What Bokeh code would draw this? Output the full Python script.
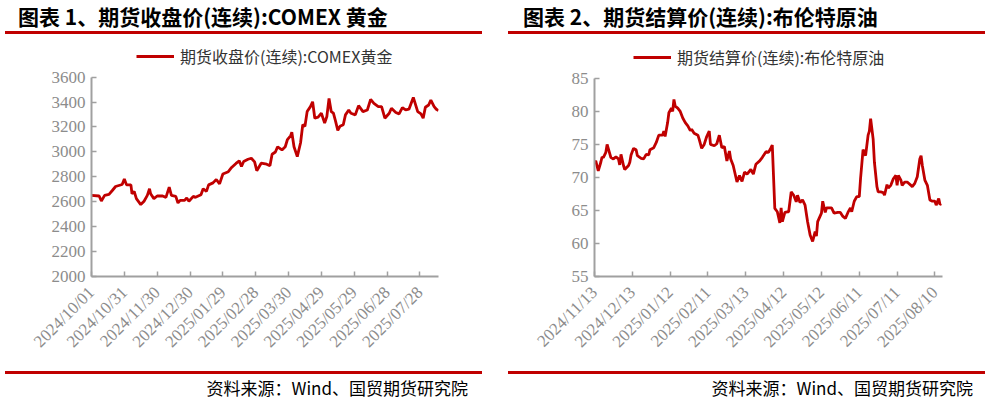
import pandas as pd
import math
from bokeh.plotting import figure
from bokeh.layouts import row, column
from bokeh.models import (Range1d, FixedTicker, DatetimeTickFormatter, Div,
                          Legend, LegendItem, ColumnDataSource)
from bokeh.embed import file_html
from bokeh.resources import INLINE

# ---------------- data: COMEX gold, continuous close ----------------
gold_dates = [
    "2024/10/01", "2024/10/08", "2024/10/10", "2024/10/13", "2024/10/17", "2024/10/20",
    "2024/10/23", "2024/10/26", "2024/10/29", "2024/10/31", "2024/11/02", "2024/11/06",
    "2024/11/07", "2024/11/09", "2024/11/11", "2024/11/15", "2024/11/18", "2024/11/21",
    "2024/11/23", "2024/11/24", "2024/11/27", "2024/11/30", "2024/12/05", "2024/12/08",
    "2024/12/11", "2024/12/13", "2024/12/17", "2024/12/19", "2024/12/21", "2024/12/25",
    "2024/12/27", "2024/12/29", "2025/01/02", "2025/01/04", "2025/01/09", "2025/01/11",
    "2025/01/14", "2025/01/16", "2025/01/20", "2025/01/23", "2025/01/26", "2025/01/29",
    "2025/02/03", "2025/02/06", "2025/02/10", "2025/02/13", "2025/02/15", "2025/02/17",
    "2025/02/21", "2025/02/24", "2025/02/27", "2025/03/01", "2025/03/05", "2025/03/10",
    "2025/03/13", "2025/03/15", "2025/03/18", "2025/03/20", "2025/03/24", "2025/03/27",
    "2025/03/29", "2025/04/01", "2025/04/02", "2025/04/04", "2025/04/07", "2025/04/10",
    "2025/04/12", "2025/04/14", "2025/04/16", "2025/04/19", "2025/04/21", "2025/04/23",
    "2025/04/26", "2025/04/29", "2025/05/02", "2025/05/04", "2025/05/06", "2025/05/08",
    "2025/05/10", "2025/05/12", "2025/05/14", "2025/05/16", "2025/05/19", "2025/05/21",
    "2025/05/24", "2025/05/26", "2025/05/30", "2025/06/02", "2025/06/06", "2025/06/10",
    "2025/06/13", "2025/06/16", "2025/06/20", "2025/06/23", "2025/06/26", "2025/06/30",
    "2025/07/02", "2025/07/06", "2025/07/09", "2025/07/12", "2025/07/15", "2025/07/18",
    "2025/07/22", "2025/07/26", "2025/07/29", "2025/07/31", "2025/08/02", "2025/08/05",
    "2025/08/07", "2025/08/10", "2025/08/12", "2025/08/14",
]
gold_close = [
    2651, 2646, 2606, 2651, 2659, 2690,
    2722, 2730, 2738, 2783, 2735, 2735,
    2664, 2683, 2625, 2577, 2604, 2651,
    2704, 2664, 2625, 2646, 2646, 2635,
    2717, 2651, 2643, 2590, 2611, 2611,
    2630, 2604, 2643, 2635, 2656, 2704,
    2683, 2735, 2751, 2778, 2743, 2822,
    2841, 2875, 2907, 2928, 2883, 2923,
    2941, 2949, 2920, 2849, 2909, 2901,
    2888, 2981, 2999, 3041, 3015, 3041,
    3099, 3131, 3157, 3041, 2962, 3073,
    3218, 3205, 3323, 3363, 3402, 3270,
    3278, 3310, 3231, 3284, 3429, 3323,
    3310, 3244, 3173, 3205, 3218, 3297,
    3336, 3310, 3297, 3371, 3323, 3336,
    3421, 3389, 3363, 3363, 3270, 3310,
    3350, 3316, 3305, 3355, 3336, 3342,
    3437, 3323, 3305, 3270, 3358, 3376,
    3416, 3363, 3342, 3331,
]
gold_ticks = ["2024/10/01", "2024/10/31", "2024/11/30", "2024/12/30", "2025/01/29",
              "2025/02/28", "2025/03/30", "2025/04/29", "2025/05/29", "2025/06/28",
              "2025/07/28"]
gold_yticks = [2000, 2200, 2400, 2600, 2800, 3000, 3200, 3400, 3600]

# ---------------- data: Brent crude, continuous settlement ----------------
brent_dates = [
    "2024/11/13", "2024/11/14", "2024/11/16", "2024/11/18", "2024/11/19", "2024/11/20",
    "2024/11/22", "2024/11/23", "2024/11/26", "2024/11/28", "2024/11/30", "2024/12/02",
    "2024/12/03", "2024/12/04", "2024/12/06", "2024/12/07", "2024/12/10", "2024/12/11",
    "2024/12/12", "2024/12/14", "2024/12/16", "2024/12/17", "2024/12/20", "2024/12/22",
    "2024/12/24", "2024/12/26", "2024/12/27", "2024/12/30", "2025/01/01", "2025/01/03",
    "2025/01/06", "2025/01/07", "2025/01/08", "2025/01/10", "2025/01/11", "2025/01/13",
    "2025/01/14", "2025/01/15", "2025/01/16", "2025/01/18", "2025/01/20", "2025/01/22",
    "2025/01/24", "2025/01/26", "2025/01/28", "2025/01/29", "2025/01/31", "2025/02/03",
    "2025/02/04", "2025/02/06", "2025/02/08", "2025/02/10", "2025/02/12", "2025/02/13",
    "2025/02/16", "2025/02/18", "2025/02/20", "2025/02/22", "2025/02/24", "2025/02/26",
    "2025/02/28", "2025/03/01", "2025/03/03", "2025/03/06", "2025/03/08", "2025/03/10",
    "2025/03/12", "2025/03/14", "2025/03/17", "2025/03/19", "2025/03/21", "2025/03/24",
    "2025/03/26", "2025/03/29", "2025/03/31", "2025/04/02", "2025/04/03", "2025/04/05",
    "2025/04/07", "2025/04/09", "2025/04/10", "2025/04/11", "2025/04/13", "2025/04/15",
    "2025/04/16", "2025/04/18", "2025/04/20", "2025/04/22", "2025/04/23", "2025/04/25",
    "2025/04/27", "2025/04/29", "2025/05/01", "2025/05/03", "2025/05/05", "2025/05/07",
    "2025/05/08", "2025/05/09", "2025/05/12", "2025/05/13", "2025/05/15", "2025/05/16",
    "2025/05/20", "2025/05/22", "2025/05/25", "2025/05/27", "2025/05/29", "2025/05/31",
    "2025/06/02", "2025/06/04", "2025/06/05", "2025/06/07", "2025/06/09", "2025/06/11",
    "2025/06/12", "2025/06/14", "2025/06/15", "2025/06/16", "2025/06/18", "2025/06/19",
    "2025/06/20", "2025/06/22", "2025/06/23", "2025/06/25", "2025/06/26", "2025/06/28",
    "2025/06/30", "2025/07/01", "2025/07/03", "2025/07/04", "2025/07/06", "2025/07/08",
    "2025/07/10", "2025/07/11", "2025/07/12", "2025/07/14", "2025/07/15", "2025/07/17",
    "2025/07/19", "2025/07/22", "2025/07/23", "2025/07/25", "2025/07/27", "2025/07/29",
    "2025/07/30", "2025/07/31", "2025/08/02", "2025/08/04", "2025/08/06", "2025/08/08",
    "2025/08/10", "2025/08/11", "2025/08/13", "2025/08/14", "2025/08/15",
]
brent_settle = [
    72.3, 72.5, 71.0, 72.3, 73.1, 73.0,
    73.8, 75.0, 73.0, 72.8, 73.1, 72.8,
    71.9, 73.5, 71.8, 71.2, 71.8, 72.3,
    73.4, 74.4, 74.2, 73.3, 72.9, 72.8,
    73.5, 73.4, 74.2, 74.5, 75.3, 76.4,
    76.4, 77.0, 76.2, 78.3, 79.8, 80.5,
    80.0, 81.8, 80.8, 80.5, 80.0, 79.0,
    78.3, 77.8, 77.1, 77.3, 76.7, 76.4,
    75.8, 74.4, 75.0, 76.2, 77.0, 75.0,
    74.8, 75.1, 76.4, 74.5, 74.7, 72.5,
    74.0, 72.8, 71.8, 69.3, 70.3, 69.4,
    70.8, 70.5, 71.2, 70.5, 72.0, 72.5,
    73.0, 73.9, 73.8, 74.5, 74.9, 65.3,
    64.8, 63.1, 65.4, 63.3, 64.7, 64.8,
    64.8, 67.8, 67.3, 66.3, 67.3, 66.2,
    66.6, 65.8, 63.3, 61.3, 60.3, 61.8,
    61.1, 63.3, 64.6, 66.4, 64.7, 65.4,
    65.4, 64.6, 64.7, 64.7, 64.1, 63.8,
    64.7, 65.4, 64.8, 66.4, 67.1, 67.1,
    69.8, 74.2, 73.8, 73.3, 76.4, 77.0,
    78.9, 75.8, 72.3, 68.6, 67.8, 67.8,
    67.7, 67.3, 68.9, 68.4, 68.8, 69.8,
    70.3, 68.8, 70.3, 69.6, 68.8, 69.3,
    69.3, 68.8, 68.6, 69.1, 70.1, 72.8,
    73.3, 71.8, 69.6, 68.8, 66.6, 66.4,
    66.4, 65.8, 66.8, 65.9, 66.0,
]
brent_ticks = ["2024/11/13", "2024/12/13", "2025/01/12", "2025/02/11", "2025/03/13",
               "2025/04/12", "2025/05/12", "2025/06/11", "2025/07/11", "2025/08/10"]
brent_yticks = [55, 60, 65, 70, 75, 80, 85]

RED = "#c00000"
AXIS = "#a0a0a0"
W = 495
H_HEAD, H_CHART, H_FOOT = 34, 326, 43
SOURCE = "资料来源：Wind、国贸期货研究院"
CJK = "'Noto Sans CJK SC', sans-serif"


def ms(s):
    return pd.Timestamp(s.replace("/", "-")).value / 1e6


def header(title, title_x, bar):
    html = (
        f'<div style="position:relative;width:{W}px;height:{H_HEAD}px;">'
        f'<div style="position:absolute;left:{title_x}px;top:4px;white-space:nowrap;'
        f'font-family:{CJK};font-weight:bold;font-size:21px;line-height:24px;color:#000;">'
        f'{title}</div>'
        f'<div style="position:absolute;left:{bar[0]}px;top:31px;width:{bar[1]-bar[0]}px;'
        f'height:2.5px;background:{RED};"></div></div>'
    )
    return Div(text=html, width=W, height=H_HEAD, margin=0)


def footer(src_right, bar):
    html = (
        f'<div style="position:relative;width:{W}px;height:{H_FOOT}px;">'
        f'<div style="position:absolute;left:{bar[0]}px;top:11px;width:{bar[1]-bar[0]}px;'
        f'height:2.5px;background:{RED};"></div>'
        f'<div style="position:absolute;right:{W - src_right}px;top:17px;white-space:nowrap;'
        f'font-family:{CJK};font-size:17px;line-height:22px;color:#000;">'
        f'{SOURCE}</div></div>'
    )
    return Div(text=html, width=W, height=H_FOOT, margin=0)


def chart(legend_label, dates, vals, ticks, yticks, x_end, borders,
          top_tick_px, legend_x):
    # borders: left, right, bottom (px); top_tick_px: distance (px) from the
    # frame bottom to the highest y tick.  The frame reaches to near the top of
    # the figure so that the legend can sit above the axis inside the frame.
    bl, br, bb = borders
    bt = 10
    frame_h = H_CHART - bt - bb
    per_px = (yticks[-1] - yticks[0]) / top_tick_px
    y_end = yticks[0] + frame_h * per_px
    p = figure(width=W, height=H_CHART, x_axis_type="datetime", output_backend="svg",
               toolbar_location=None,
               x_range=Range1d(ms(ticks[0]), ms(x_end)),
               y_range=Range1d(yticks[0], y_end),
               min_border_left=bl, min_border_right=br,
               min_border_top=bt, min_border_bottom=bb, margin=0)
    p.outline_line_color = None
    p.grid.visible = False
    p.background_fill_color = "white"
    p.border_fill_color = "white"

    src = ColumnDataSource(dict(x=pd.to_datetime(dates, format="%Y/%m/%d"), y=vals))
    r = p.line("x", "y", source=src, line_color=RED, line_width=2.8)

    p.xaxis.ticker = FixedTicker(ticks=[ms(t) for t in ticks])
    fmt = "%Y/%m/%d"
    p.xaxis.formatter = DatetimeTickFormatter(
        milliseconds=fmt, seconds=fmt, minsec=fmt, minutes=fmt, hourmin=fmt,
        hours=fmt, days=fmt, months=fmt, years=fmt)
    p.xaxis.major_label_orientation = math.pi / 4
    p.yaxis.ticker = FixedTicker(ticks=yticks)
    p.yaxis.bounds = (yticks[0], yticks[-1])

    for ax in (p.xaxis, p.yaxis):
        ax.axis_line_color = AXIS
        ax.axis_line_width = 2
        ax.major_tick_line_color = AXIS
        ax.major_tick_line_width = 1.5
        ax.major_tick_in = 5
        ax.major_tick_out = 0
        ax.minor_tick_line_color = None
        ax.major_label_text_font = "Liberation Serif"
        ax.major_label_text_font_size = "17px"
        ax.major_label_text_color = "#8c8c8c"
    p.yaxis.major_label_standoff = 6
    p.xaxis.major_label_standoff = 13

    legend = Legend(items=[LegendItem(label=legend_label, renderers=[r])],
                    location=(legend_x, top_tick_px + 6),
                    orientation="horizontal", glyph_width=38, glyph_height=18,
                    label_height=18, label_standoff=6,
                    label_text_font="Noto Sans CJK SC",
                    label_text_font_size="16px", label_text_color="#333333",
                    background_fill_alpha=0, border_line_alpha=0,
                    padding=0, margin=0)
    p.add_layout(legend, "center")
    return p


p1 = chart("期货收盘价(连续):COMEX黄金", gold_dates, gold_close, gold_ticks,
           gold_yticks, "2025/08/14", (91, 57, 81), 202, 45)
p2 = chart("期货结算价(连续):布伦特原油", brent_dates, brent_settle, brent_ticks,
           brent_yticks, "2025/08/16", (99, 48, 81), 200.7, 39)

left = column(header("图表 1、期货收盘价(连续):COMEX 黄金", 18, (5, 482)), p1,
              footer(468, (5, 482)), spacing=0)
right = column(header("图表 2、期货结算价(连续):布伦特原油", 28, (13, 490)), p2,
               footer(478, (13, 490)), spacing=0)

layout = row(left, right, spacing=0)
open("out.html", "w").write(file_html(layout, INLINE))
